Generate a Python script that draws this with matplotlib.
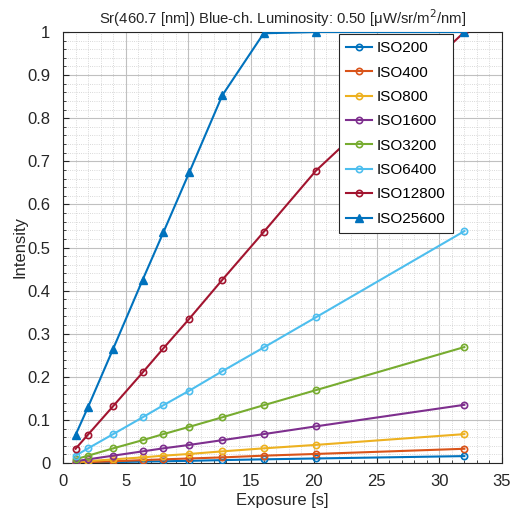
import matplotlib
matplotlib.use("Agg")
import matplotlib.pyplot as plt
from matplotlib.ticker import MultipleLocator

plt.rcParams['font.family'] = ['Liberation Sans', 'DejaVu Sans']

exposure = [1, 2, 4, 6.35, 8, 10.08, 12.7, 16, 20.16, 32]
iso_labels = ['ISO200', 'ISO400', 'ISO800', 'ISO1600', 'ISO3200', 'ISO6400', 'ISO12800', 'ISO25600']
iso200 = [0.0005, 0.001, 0.002, 0.0033, 0.004, 0.005, 0.0067, 0.0085, 0.0105, 0.016]
iso400 = [0.001, 0.002, 0.004, 0.0067, 0.0085, 0.0105, 0.013, 0.017, 0.021, 0.033]
iso800 = [0.0021, 0.0042, 0.0085, 0.013, 0.017, 0.021, 0.027, 0.034, 0.042, 0.067]
iso1600 = [0.0042, 0.0085, 0.017, 0.027, 0.034, 0.042, 0.053, 0.067, 0.085, 0.135]
iso3200 = [0.0085, 0.017, 0.034, 0.053, 0.067, 0.084, 0.106, 0.134, 0.169, 0.269]
iso6400 = [0.017, 0.034, 0.067, 0.106, 0.134, 0.168, 0.213, 0.268, 0.338, 0.538]
iso12800 = [0.033, 0.066, 0.132, 0.21, 0.266, 0.335, 0.425, 0.536, 0.678, 1.0]
iso25600 = [0.065, 0.13, 0.265, 0.425, 0.535, 0.675, 0.853, 0.997, 1.0, 1.0]
series = [iso200, iso400, iso800, iso1600, iso3200, iso6400, iso12800, iso25600]
colors = ['#0072BD', '#D95319', '#EDB120', '#7E2F8E', '#77AC30', '#4DBEEE', '#A2142F', '#0072BD']

fig = plt.figure(figsize=(5.22, 5.09), dpi=100)
ax = fig.add_axes([63/522, 1 - 463/509, (502-63)/522, (463-32)/509])

for lab, vals, c in zip(iso_labels, series, colors):
    if lab == 'ISO25600':
        ax.plot(exposure, vals, color=c, lw=1.5, marker='^', ms=5.5, mfc=c, mec=c, label=lab, zorder=3)
    else:
        ax.plot(exposure, vals, color=c, lw=1.5, marker='o', ms=4.5, mfc='none', mec=c, mew=1.2, label=lab, zorder=3)

ax.set_xlim(0, 35)
ax.set_ylim(0, 1)
ax.xaxis.set_major_locator(MultipleLocator(5))
ax.xaxis.set_minor_locator(MultipleLocator(1))
ax.yaxis.set_minor_locator(MultipleLocator(0.02))
ax.set_yticks([i/10 for i in range(11)])
ax.set_yticklabels(['0', '0.1', '0.2', '0.3', '0.4', '0.5', '0.6', '0.7', '0.8', '0.9', '1'])
ax.grid(which='major', color='#c0c0c0', lw=0.8, ls='-')
ax.grid(which='minor', color='#cccccc', lw=0.6, ls=':')
ax.tick_params(which='both', direction='in', colors='#262626', labelsize=12)
ax.tick_params(which='major', length=4)
ax.tick_params(which='minor', length=2)
ax.tick_params(axis='x', which='major', pad=8)
ax.tick_params(axis='y', which='major', pad=9)
for s in ax.spines.values():
    s.set_color('#262626')
    s.set_linewidth(0.8)
ax.set_axisbelow(True)

ax.set_xlabel('Exposure [s]', fontsize=12, color='#262626', labelpad=3)
ax.set_ylabel('Intensity', fontsize=12, color='#262626', labelpad=0)
ax.set_title('Sr(460.7 [nm]) Blue-ch. Luminosity: 0.50 [μW/sr/m$^2$/nm]', fontsize=10.7, color='#262626', pad=6)

leg = ax.legend(loc='upper right', bbox_to_anchor=(0.893, 1.0), fontsize=11, fancybox=False,
                framealpha=1, edgecolor='#262626', handlelength=1.7, handletextpad=0.35,
                borderpad=0.45, labelspacing=0.68, borderaxespad=0.15)
leg.get_frame().set_linewidth(0.8)

fig.savefig('out.png', dpi=100)
